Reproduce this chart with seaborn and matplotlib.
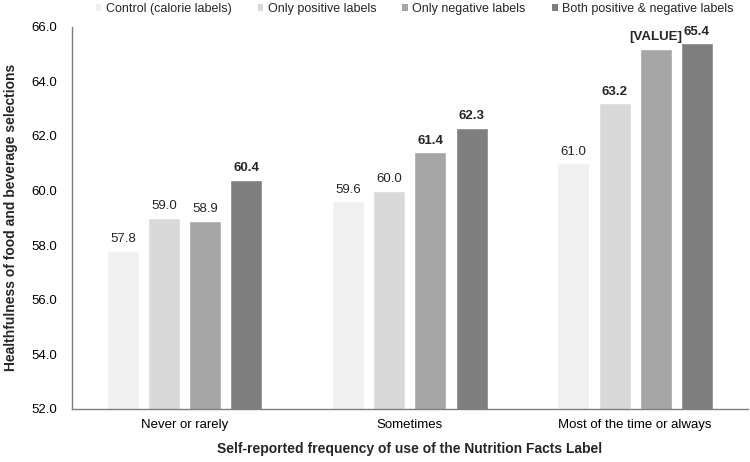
import seaborn as sns
import pandas as pd
import matplotlib.pyplot as plt
from matplotlib.patches import Patch

# data
groups = ["Never or rarely", "Sometimes", "Most of the time or always"]
conditions = ["Control (calorie labels)", "Only positive labels",
              "Only negative labels", "Both positive & negative labels"]
control = [57.8, 59.6, 61.0]
only_positive = [59.0, 60.0, 63.2]
only_negative = [58.9, 61.4, 65.2]
both_labels = [60.4, 62.3, 65.4]
# text shown above each bar, and whether it is bold
bar_text = [["57.8", "59.6", "61.0"],
            ["59.0", "60.0", "63.2"],
            ["58.9", "61.4", "[VALUE]"],
            ["60.4", "62.3", "65.4"]]
bar_bold = [[False, False, False],
            [False, False, True],
            [False, True, True],
            [True, True, True]]
colors = ["#f0f0f0", "#d9d9d9", "#a6a6a6", "#7f7f7f"]

sns.set_style("white")
plt.rcParams["font.family"] = ["Liberation Sans", "DejaVu Sans"]

series = [control, only_positive, only_negative, both_labels]
df = pd.DataFrame({
    "group": groups * 4,
    "condition": [c for c in conditions for _ in groups],
    "value": [v for s in series for v in s],
})

fig, ax = plt.subplots(figsize=(7.5, 4.62), dpi=100)
fig.subplots_adjust(left=0.096, right=0.997, bottom=0.115, top=0.942)

sns.barplot(data=df, x="group", y="value", hue="condition", order=groups,
            hue_order=conditions, palette=colors, width=0.73, gap=0.22,
            saturation=1, legend=False, ax=ax)

for cont, texts, bolds in zip(ax.containers, bar_text, bar_bold):
    labs = ax.bar_label(cont, labels=texts, padding=4, fontsize=9.5)
    for t, b in zip(labs, bolds):
        if b:
            t.set_fontweight("bold")

ax.set_ylim(52, 66)
ax.set_yticks(range(52, 67, 2))
ax.set_yticklabels([f"{v:.1f}" for v in range(52, 67, 2)])
ax.tick_params(axis="both", length=0, labelsize=9.5, colors="#000000")
ax.tick_params(axis="x", pad=7)
ax.tick_params(axis="y", pad=11)
ax.set_xlabel("Self-reported frequency of use of the Nutrition Facts Label",
              fontsize=10, fontweight="bold", labelpad=8)
ax.set_ylabel("Healthfulness of food and beverage selections",
              fontsize=10, fontweight="bold", labelpad=9)
for side in ["top", "right"]:
    ax.spines[side].set_visible(False)
for side in ["left", "bottom"]:
    ax.spines[side].set_color("#7f7f7f")
    ax.spines[side].set_linewidth(1)

handles = [Patch(facecolor=c, edgecolor="none") for c in colors]
fig.legend(handles, conditions, loc="upper right", bbox_to_anchor=(0.993, 1.018),
           ncol=4, frameon=False, fontsize=9, handlelength=0.45, handleheight=0.45,
           handletextpad=0.35, columnspacing=2.1)

fig.savefig("out.png", dpi=100)
